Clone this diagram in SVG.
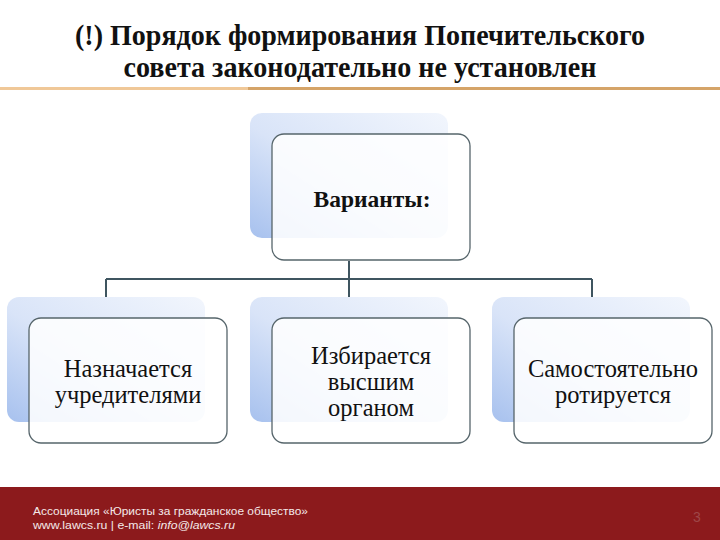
<svg xmlns="http://www.w3.org/2000/svg" width="720" height="540" viewBox="0 0 720 540">
<defs>
<linearGradient id="bk" x1="1" y1="0" x2="0" y2="1">
<stop offset="0" stop-color="#f2f6fd"/>
<stop offset="0.55" stop-color="#d9e4f8"/>
<stop offset="1" stop-color="#a7c1ee"/>
</linearGradient>
<style>
.back{fill:url(#bk);}
.front{fill:#ffffff;fill-opacity:0.86;stroke:#56656b;stroke-width:1.3;}
.lbl{font-family:"Liberation Serif","Times New Roman",serif;font-size:24.5px;fill:#111;text-anchor:middle;}
.conn{stroke:#3f5560;stroke-width:2;fill:none;}
.title{font-family:"Liberation Serif","Times New Roman",serif;font-weight:bold;font-size:30px;fill:#111;text-anchor:middle;}
.foot{font-family:"Liberation Sans",Arial,sans-serif;font-size:11px;fill:#f4e8e8;}
</style>
</defs>
<rect width="720" height="540" fill="#ffffff"/>
<g id="title">
<text class="title" x="360" y="45" textLength="570" lengthAdjust="spacingAndGlyphs">(!) Порядок формирования Попечительского</text>
<text class="title" x="360" y="77" textLength="473" lengthAdjust="spacingAndGlyphs">совета законодательно не установлен</text>
<rect x="0" y="87" width="248" height="3" fill="#f0c898"/>
<rect x="248" y="87" width="472" height="3" fill="#d5a468"/>
</g>
<g id="connectors">
<path class="conn" d="M349 261V297M106 279H592M106 279V297M592 279V297"/>
</g>
<g id="n-variants">
<rect class="back" x="250" y="113" width="198" height="125" rx="12"/>
<rect class="front" x="272" y="134" width="198" height="126" rx="12"/>
<text class="lbl" x="372" y="207" font-weight="bold" style="font-size:23.5px">Варианты:</text>
</g>
<g id="n-appointed">
<rect class="back" x="7" y="297" width="198" height="125" rx="12"/>
<rect class="front" x="29" y="318" width="198" height="125" rx="12"/>
<text class="lbl" x="128" y="377">Назначается</text>
<text class="lbl" x="128" y="403">учредителями</text>
</g>
<g id="n-elected">
<rect class="back" x="250" y="297" width="198" height="125" rx="12"/>
<rect class="front" x="272" y="318" width="198" height="125" rx="12"/>
<text class="lbl" x="371" y="364">Избирается</text>
<text class="lbl" x="371" y="390">высшим</text>
<text class="lbl" x="371" y="416">органом</text>
</g>
<g id="n-rotates">
<rect class="back" x="492" y="297" width="198" height="125" rx="12"/>
<rect class="front" x="514" y="318" width="198" height="125" rx="12"/>
<text class="lbl" x="613" y="377">Самостоятельно</text>
<text class="lbl" x="613" y="403">ротируется</text>
</g>
<g id="footer">
<rect x="0" y="487" width="720" height="53" fill="#8c1a1c"/>
<text class="foot" x="33" y="515" textLength="275" lengthAdjust="spacingAndGlyphs">Ассоциация  «Юристы за гражданское общество»</text>
<text class="foot" x="33" y="529" textLength="202" lengthAdjust="spacingAndGlyphs">www.lawcs.ru  |  e-mail: <tspan font-style="italic">info@lawcs.ru</tspan></text>
<text x="697" y="522" font-family="Liberation Sans,Arial,sans-serif" font-size="14" fill="#9e4748" text-anchor="middle">3</text>
</g>
</svg>
